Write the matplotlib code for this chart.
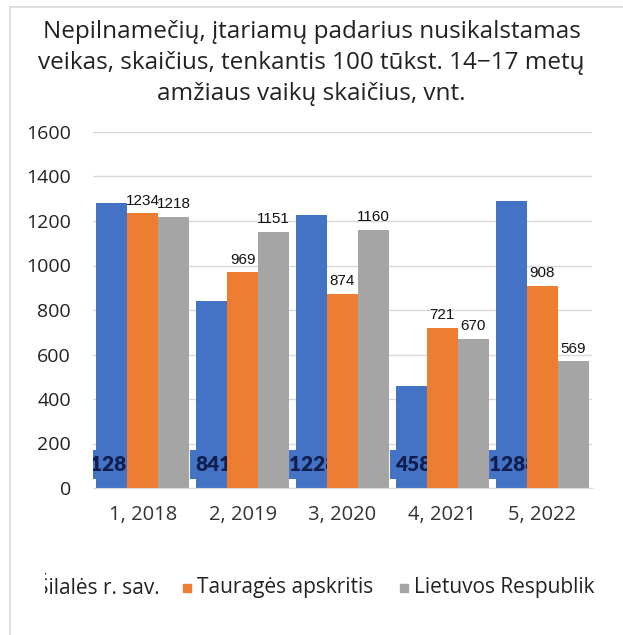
import matplotlib
matplotlib.use("Agg")
import matplotlib.pyplot as plt
import matplotlib.transforms as mtransforms
from matplotlib.patches import Rectangle
import numpy as np

categories = ["1, 2018", "2, 2019", "3, 2020", "4, 2021", "5, 2022"]
series_names = ["Šilalės r. sav.", "Tauragės apskritis", "Lietuvos Respublik"]
silale = [1282, 841, 1228, 458, 1288]
taurage = [1234, 969, 874, 721, 908]
lietuva = [1218, 1151, 1160, 670, 569]
yticks = [0, 200, 400, 600, 800, 1000, 1200, 1400, 1600]
title = "Nepilnamečių, įtariamų padarius nusikalstamas\nveikas, skaičius, tenkantis 100 tūkst. 14−17 metų\namžiaus vaikų skaičius, vnt."

colors = ["#4472C4", "#ED7D31", "#A5A5A5"]
FONT = "Open Sans"

W, H = 623, 635
fig = plt.figure(figsize=(W / 100, H / 100), dpi=100)
fig.patch.set_facecolor("white")

# frame lines (left and top)
fig.add_artist(plt.Line2D([10 / W, 10 / W], [0, 1 - 7 / H], color="#D9D9D9", lw=1.2))
fig.add_artist(plt.Line2D([10 / W, 1], [1 - 7 / H, 1 - 7 / H], color="#D9D9D9", lw=1.2))

ax = fig.add_axes([93 / W, 1 - 488 / H, (592 - 93) / W, (488 - 132) / H])
x = np.arange(len(categories))
bw = 0.31
offs = [-bw, 0, bw]

b0 = ax.bar(x + offs[0], silale, bw, color=colors[0], zorder=2)
b1 = ax.bar(x + offs[1], taurage, bw, color=colors[1], zorder=4)
b2 = ax.bar(x + offs[2], lietuva, bw, color=colors[2], zorder=4)

ax.set_xlim(-0.5, len(categories) - 0.5)
ax.set_ylim(0, 1600)
ax.set_yticks(yticks)
ax.set_yticklabels([str(v) for v in yticks], fontsize=14, family=FONT, color="#222222")
ax.set_xticks(x)
ax.set_xticklabels(categories, fontsize=14.5, family=FONT, color="#333333")
ax.tick_params(axis="both", length=0)
ax.tick_params(axis="y", pad=16)
ax.tick_params(axis="x", pad=12)
ax.grid(axis="y", color="#D9D9D9", lw=1, zorder=0)
ax.set_axisbelow(True)
for s in ["left", "right", "top"]:
    ax.spines[s].set_visible(False)
ax.spines["bottom"].set_color("#D9D9D9")
ax.spines["bottom"].set_zorder(5)

# data labels for orange and gray
for bars, vals in [(b1, taurage), (b2, lietuva)]:
    for r, v in zip(bars, vals):
        ax.annotate(str(v), (r.get_x() + r.get_width() / 2, v), xytext=(0, 4),
                    textcoords="offset points", ha="center", va="bottom",
                    fontsize=11, family="Liberation Sans", color="#111111", zorder=6)

# blue labels at bar base (partly hidden by neighbours)
trans = mtransforms.blended_transform_factory(ax.transData, ax.transAxes)
for r, v in zip(b0, silale):
    ax.text(r.get_x() + r.get_width() / 2 + 0.02, 0.066, str(v), transform=trans,
            ha="center", va="center", fontsize=15, fontweight="heavy", family="Lato",
            color="#0F1E4F", zorder=3, clip_on=True,
            bbox=dict(boxstyle="square,pad=0.25", fc=colors[0], ec="none"))

fig.text(0.5, 1 - 63 / H, title, ha="center", va="center", fontsize=17.5,
         family=FONT, color="#222222", linespacing=1.37)

# legend (clipped at both ends like the reference)
lax = fig.add_axes([45 / W, 1 - 605 / H, (598 - 45) / W, 34 / H])
lax.set_xlim(45, 598)
lax.set_ylim(0, 34)
lax.axis("off")
items = [(23, series_names[0]), (183, series_names[1]), (400, series_names[2])]
for (px, name), c in zip(items, colors):
    lax.add_patch(Rectangle((px, 13), 8, 8, color=c, clip_on=True))
    lax.text(px + 14, 17, name, ha="left", va="center", fontsize=15, family=FONT,
             color="#222222", clip_on=True)

fig.savefig("out.png", dpi=100, facecolor="white")
